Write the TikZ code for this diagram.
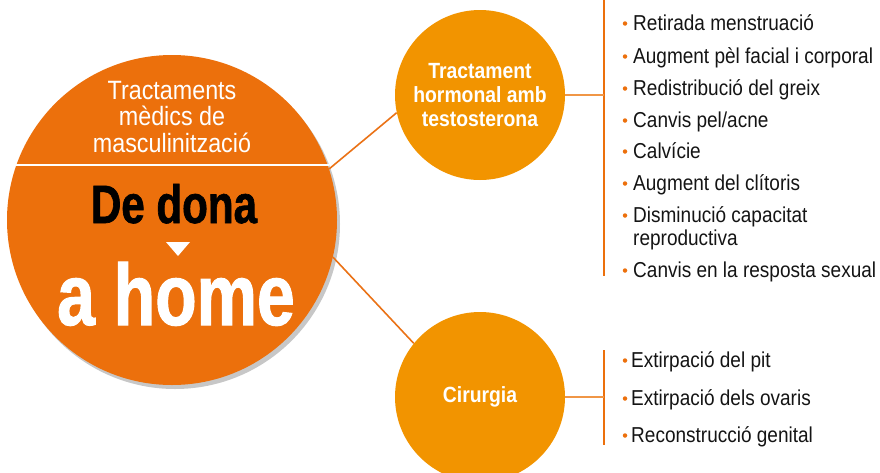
\documentclass[tikz,border=0pt]{standalone}
\usepackage{fontspec}
\setmainfont{Liberation Sans}[FakeStretch=0.88]
\newfontfamily\condbold{Liberation Sans Bold}[FakeStretch=0.88]
\newfontfamily\heavy{Liberation Sans Bold}[FakeStretch=0.78, FakeBold=1.2]
\usetikzlibrary{shadows}
\definecolor{mainor}{RGB}{236,112,12}
\definecolor{subor}{RGB}{242,148,0}
\definecolor{linkor}{RGB}{234,114,22}
\definecolor{stubor}{RGB}{240,150,70}
\definecolor{itemtxt}{RGB}{20,20,20}
\tikzset{
  bigdisc/.style={circle, fill=mainor, minimum size=330pt, inner sep=0pt,
    drop shadow={shadow xshift=3pt, shadow yshift=-4pt, opacity=0.22, fill=black}},
  subdisc/.style={circle, fill=subor, minimum size=170pt, inner sep=0pt,
    text=white, align=center, font=\condbold\fontsize{22}{24}\selectfont},
  link/.style={draw=linkor, line width=1.6pt},
  stub/.style={draw=stubor, line width=1.6pt},
  rail/.style={draw=mainor, line width=2pt},
  item/.style={anchor=base west, inner sep=0pt, text=itemtxt, font=\fontsize{21.6}{24}\selectfont},
  dot/.style={circle, fill=mainor, minimum size=4.5pt, inner sep=0pt},
  toptxt/.style={anchor=base, inner sep=0pt, text=white, font=\fontsize{26.5}{28}\selectfont},
}
\begin{document}
\begin{tikzpicture}[x=1pt, y=-1pt]
\useasboundingbox (0,0) rectangle (880,472);
% main disc
\node[bigdisc] (main) at (172,220) {};
\path (main.center) ++(-156,-55) coordinate (wla) (main.center) ++(157,-55) coordinate (wlb);
\draw[white, line width=1.6pt] (wla) -- (wlb);
\node[toptxt] (t1) at (172,99) {Tractaments};
\node[toptxt] (t2) at (172,125) {mèdics de};
\node[toptxt] (t3) at (172,152) {masculinització};
\node[anchor=base, inner sep=0pt, text=black, font=\heavy\fontsize{54}{56}\selectfont] (dedona) at (174,223) {De dona};
\fill[white] (166,242) -- (190,242) -- (178,256) -- cycle;
\node[anchor=base, inner sep=0pt, text=white, font=\heavy\fontsize{87}{90}\selectfont] (ahome) at (176,325) {a home};
% sub discs
\node[subdisc] (horm) at (480,95) {Tractament\\hormonal amb\\testosterona};
\node[subdisc] (cir) at (480,397) {Cirurgia};
% links
\draw[link] (main.18) -- (horm.192);
\draw[link] (main.-13) -- (cir.141);
% rails
\coordinate (r1top) at (604,0);
\coordinate (r1bot) at (604,276);
\coordinate (r2top) at (604,350);
\coordinate (r2bot) at (604,445);
\draw[rail] (r1top) -- (r1bot);
\draw[rail] (r2top) -- (r2bot);
\draw[stub] (horm.east) -- (horm.east -| r1top);
\draw[stub] (cir.east) -- (cir.east -| r2top);
% items hormone
\foreach \name/\y/\txt in {a/30/{Retirada menstruació}, b/63/{Augment pèl facial i corporal}, c/95/{Redistribució del greix}, d/127/{Canvis pel/acne}, e/158/{Calvície}, f/190/{Augment del clítoris}, g/222/{Disminució capacitat}, i/277/{Canvis en la resposta sexual}}{
  \node[item] (h\name) at (633,\y) {\txt};
  \node[dot] at ([xshift=-8pt, yshift=6.5pt]h\name.base west) {};
}
\node[item] (hh) at (633,245) {reproductiva};
% items surgery
\foreach \name/\y/\txt in {a/367/{Extirpació del pit}, b/405/{Extirpació dels ovaris}, c/442/{Reconstrucció genital}}{
  \node[item] (s\name) at (631,\y) {\txt};
  \node[dot] at ([xshift=-6pt, yshift=6.5pt]s\name.base west) {};
}
\end{tikzpicture}
\end{document}
